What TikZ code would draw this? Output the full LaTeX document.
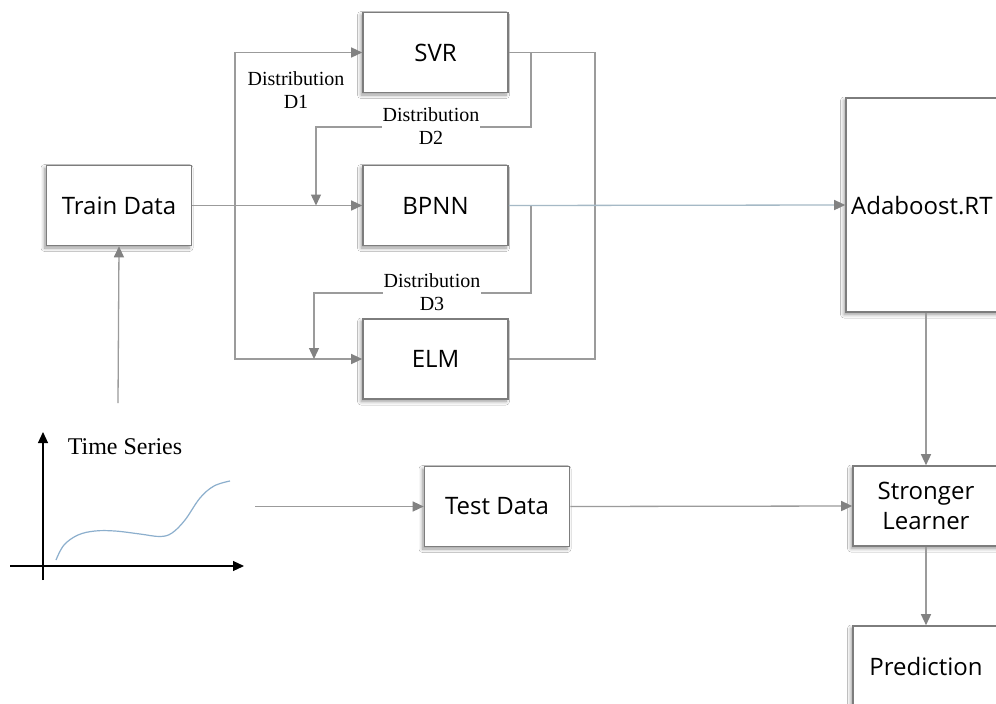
\documentclass[tikz,border=0pt]{standalone}
\usepackage{fontspec}
\setmainfont{Liberation Serif}
\newfontfamily\boxfont{Open Sans}
\usetikzlibrary{arrows.meta,shadows.blur}
\definecolor{linegray}{RGB}{155,155,155}
\definecolor{tipgray}{RGB}{130,130,130}
\definecolor{boxgray}{RGB}{125,125,125}
\definecolor{curveblue}{RGB}{140,175,205}
\definecolor{flowblue}{RGB}{165,185,198}
\tikzset{
  blockbox/.style={draw=boxgray, line width=1.6pt, fill=white, inner sep=0pt,
    minimum width=145pt, minimum height=80pt, align=center,
    font=\boxfont\fontsize{24}{30}\selectfont,
    blur shadow={shadow xshift=-2pt, shadow yshift=-2.5pt,
      shadow blur radius=3.5pt, shadow blur steps=8, shadow opacity=40}},
  link/.style={draw=linegray, line width=1.3pt},
  tip/.style={-{Triangle[length=11pt,width=10pt,color=tipgray]}},
  arr/.style={link, tip},
  distlabel/.style={fill=white, inner sep=1pt, align=center,
    font=\fontsize{20}{23}\selectfont},
  axis/.style={line width=1.2pt, -{Triangle[length=11pt,width=10pt]}}
}
\begin{document}
\begin{tikzpicture}[x=1pt, y=-1pt]
  \useasboundingbox (0,0) rectangle (996,704);
  \clip (0,0) rectangle (996,704);
  \fill[white] (0,0) rectangle (996,704);

  % model blocks
  \node[blockbox] (svr)   at (435.5,52.5) {SVR};
  \node[blockbox] (bpnn)  at (435.5,205.5) {BPNN};
  \node[blockbox] (elm)   at (435.5,359) {ELM};
  \node[blockbox] (train) at (119,205.5) {Train Data};
  \node[blockbox] (test)  at (497,506.5) {Test Data};
  \node[blockbox, minimum width=160pt, minimum height=214pt] (ada) at (926,205) {};
  \node[anchor=west, inner sep=0pt, font=\boxfont\fontsize{24}{30}\selectfont] (adatext) at (851,206) {Adaboost.RT};
  \node[blockbox, minimum width=146pt] (strong) at (926,506) {Stronger\\Learner};
  \node[blockbox, minimum width=146pt] (pred)   at (926,666) {Prediction};

  % junction points of the distribution paths
  \coordinate (split) at (235,205.5);
  \coordinate (d2top) at (531,52.5);
  \coordinate (d3top) at (531,205.5);
  \coordinate (d2in)  at (316,205.5);
  \coordinate (d3in)  at (314,359);
  \coordinate (tsout) at (255,506.5);
  \coordinate (tsup)  at (118,403);

  % train data feeds the three learners
  \draw[arr] (train.east) -- (bpnn.west);
  \draw[arr] (split) |- (svr.west);
  \draw[arr] (split) |- (elm.west);
  \draw[link] (svr.east) -- (595,52.5) |- (elm.east);

  % reweighted distributions D2 and D3
  \draw[link] (d2top) |- (380,127);
  \draw[arr]  (380,127) -| (d2in);
  \draw[link] (d3top) |- (380,293);
  \draw[arr]  (380,293) -| (d3in);
  \node[distlabel] (lab1) at (296,90.5) {Distribution\\D1};
  \node[distlabel] (lab2) at (431,126.5) {Distribution\\D2};
  \node[distlabel] (lab3) at (432,292) {Distribution\\D3};

  % ensemble and prediction
  \draw[link, draw=flowblue, tip] (bpnn.east) -- (ada.west);
  \draw[arr] (ada.south -| strong.north) -- (strong.north);
  \draw[arr] (strong.south) -- (pred.north);
  \draw[arr] (tsup) -- (train.south);
  \draw[arr] (tsout) -- (test.west);
  \draw[arr] (test.east) -- (strong.west);

  % time series sketch
  \coordinate (yaxbot) at (43,580);
  \coordinate (yaxtop) at (43,432);
  \coordinate (xaxleft) at (10,566);
  \coordinate (xaxright) at (244,566);
  \draw[axis] (yaxbot) -- (yaxtop);
  \draw[axis] (xaxleft) -- (xaxright);
  \draw[curveblue, line width=1.2pt] plot[smooth, tension=0.6] coordinates
    {(56,560) (64,545) (78,535) (95,531) (115,531) (140,534) (160,536.5)
     (172,533) (185,520) (200,498) (214,486) (230,481)};
  \node[font=\fontsize{24}{28}\selectfont, inner sep=0pt] (tslabel) at (125,447) {Time Series};
\end{tikzpicture}
\end{document}
